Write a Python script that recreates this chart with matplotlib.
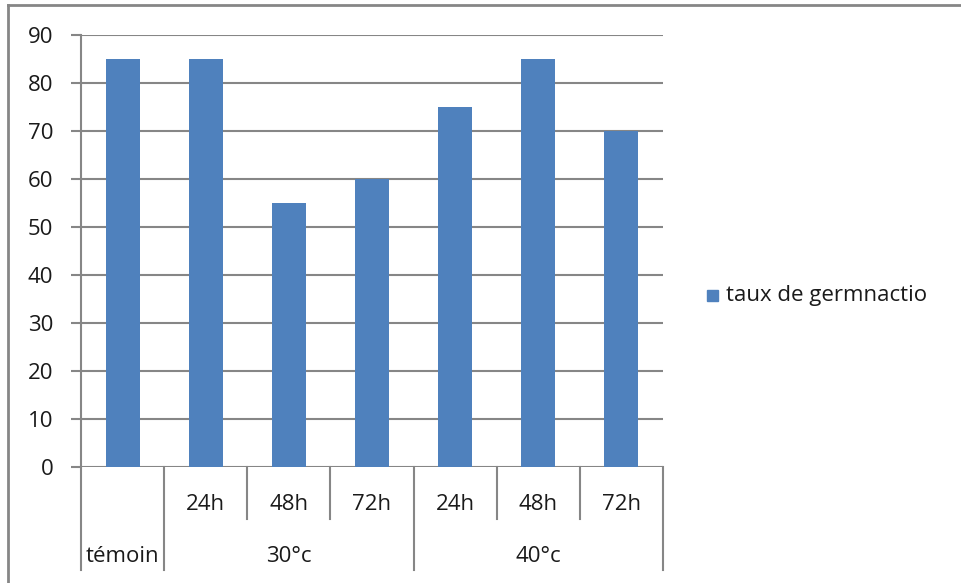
import matplotlib
matplotlib.use("Agg")
import matplotlib.pyplot as plt
from matplotlib.transforms import blended_transform_factory
from matplotlib.patches import Rectangle

categories = ["témoin", "24h", "48h", "72h", "24h", "48h", "72h"]
groups = ["témoin", "30°c", "30°c", "30°c", "40°c", "40°c", "40°c"]
values = [85, 85, 55, 60, 75, 85, 70]
yticks = [0, 10, 20, 30, 40, 50, 60, 70, 80, 90]
series_name = "taux de germnactio"

plt.rcParams['font.family'] = ['Open Sans', 'DejaVu Sans']
W, H = 962, 583
fig = plt.figure(figsize=(W / 100, H / 100), dpi=100)
grid_c = "#868686"
bar_c = "#4F81BD"
fs = 16
txt_c = "#1a1a1a"

def fy(py):
    return 1 - py / H

def fx(px):
    return px / W

ax = fig.add_axes([fx(81), fy(467), fx(663) - fx(81), fy(35) - fy(467)])
n = len(values)
xs = list(range(n))
ax.bar(xs, values, width=0.41, color=bar_c, zorder=3)
ax.set_xlim(-0.5, n - 0.5)
ax.set_ylim(0, 90)
ax.set_yticks(yticks)
ax.set_yticklabels([str(t) for t in yticks], fontsize=fs, color=txt_c)
ax.tick_params(axis='y', length=7, width=1.5, color=grid_c, pad=13)
ax.set_xticks([])
ax.grid(axis='y', color=grid_c, linewidth=1.5, zorder=0)
for s in ["top", "right", "bottom"]:
    ax.spines[s].set_visible(False)
ax.spines["left"].set_color(grid_c)
ax.spines["left"].set_linewidth(1.5)

tr = blended_transform_factory(ax.transData, fig.transFigure)
y0, y1, y2 = fy(467), fy(519), fy(570)
group_bounds = set()
for i in range(n + 1):
    if i == 0 or i == n or groups[i] != groups[i - 1]:
        group_bounds.add(i)
for i in range(n + 1):
    xb = i - 0.5
    yb = y2 if i in group_bounds else y1
    ax.plot([xb, xb], [y0, yb], color=grid_c, lw=1.5, transform=tr, clip_on=False)
for i, c in enumerate(categories):
    if c != groups[i]:
        ax.text(i, fy(504), c, transform=tr, ha='center', va='center', fontsize=fs, color=txt_c)
start = 0
for i in range(1, n + 1):
    if i == n or groups[i] != groups[start]:
        ax.text((start + i - 1) / 2, fy(556), groups[start], transform=tr, ha='center', va='center',
                fontsize=fs, color=txt_c)
        start = i

fig.add_artist(plt.Line2D([fx(8), fx(8)], [fy(5), 0], color=grid_c, lw=2, transform=fig.transFigure))
fig.add_artist(plt.Line2D([fx(8), 1], [fy(5), fy(5)], color=grid_c, lw=2, transform=fig.transFigure))

fig.add_artist(Rectangle((fx(707), fy(301)), fx(11), fy(290) - fy(301), color=bar_c, transform=fig.transFigure))
fig.text(fx(726), fy(296), series_name, fontsize=fs, va='center', ha='left', color=txt_c)

fig.savefig("out.png", dpi=100, facecolor="white")
